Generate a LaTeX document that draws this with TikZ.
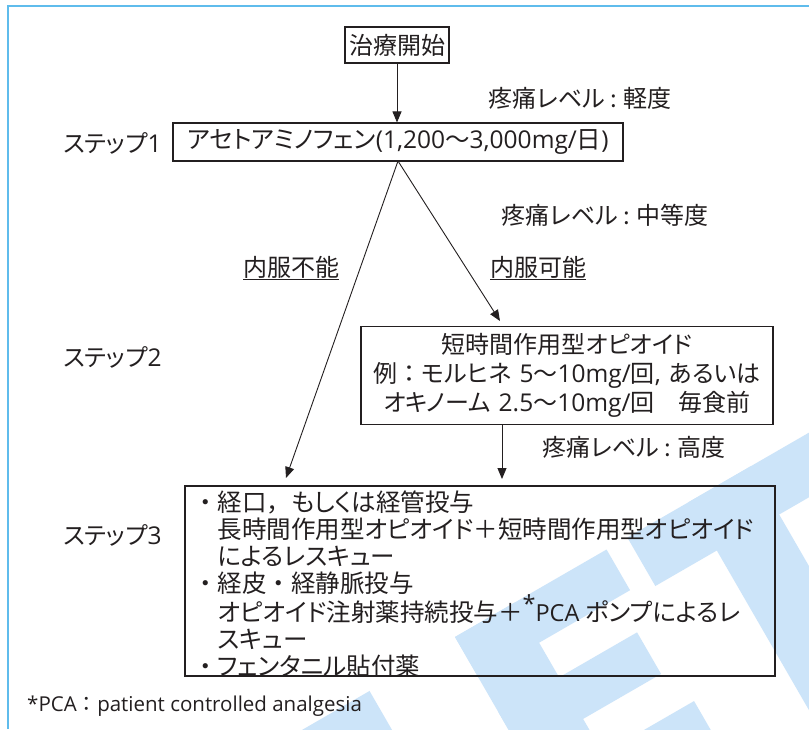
\documentclass[tikz,border=0pt]{standalone}
\usepackage{fontspec}
\setmainfont{Noto Sans CJK JP}[RawFeature={+palt}]
\newfontfamily\fw{Noto Sans CJK JP}
\newfontfamily\lat{Open Sans}
\newcommand{\lt}[1]{{\lat\fontsize{24.5}{\baselineskip}\selectfont #1}}
\newcommand{\lts}[1]{{\lat\fontsize{23.5}{\baselineskip}\selectfont #1}}
\newcommand{\fwc}[1]{{\fw #1}}
\usetikzlibrary{arrows.meta}
\definecolor{ink}{RGB}{35,31,32}
\definecolor{wm}{RGB}{204,228,249}
\definecolor{framec}{RGB}{95,188,236}
\tikzset{
  box/.style={draw=ink, line width=1.1pt},
  arr/.style={draw=ink, line width=0.9pt, -{Triangle[length=11pt,width=9pt]}},
  lbl/.style={inner sep=0pt, text=ink, font=\fontsize{24}{28}\selectfont},
  lblb/.style={text=ink, font=\fontsize{24}{29}\selectfont},
  lblc/.style={inner sep=0pt, text=ink, font=\fontsize{24.5}{26.8}\selectfont},
}
\begin{document}
\begin{tikzpicture}[x=1pt,y=-1pt]
\useasboundingbox (0,0) rectangle (809,729);
\fill[white] (0,0) rectangle (809,729);
% watermark
\begin{scope}[shift={(455,637)}, rotate=30]
  \fill[wm] (0,0) rectangle (70,400);
  \fill[wm] (0,0) rectangle (175,47);
  \fill[wm] (0,87) rectangle (160,135);
  \fill[wm] (0,175) rectangle (175,222);
  \fill[wm] (199,0) rectangle (413,56);
  \fill[wm] (270,0) rectangle (342,400);
  \fill[wm] (-101,4) rectangle (-320,300);
\end{scope}
% frame
\draw[framec, line width=1.6pt] (809,6) -- (8,6) -- (8,729);
% nodes
\node[box, lbl, minimum width=104, minimum height=36] (start) at (397,45) {治療開始};
\node[lbl] (l1) at (580,98) {疼痛レベル\hspace{0.25em}:\hspace{0.25em}軽度};
\node[lbl, anchor=west] (st1) at (63,143) {ステップ\lt{1}};
\node[box, lbl, font=\fontsize{24.5}{28}\selectfont, minimum width=450, minimum height=38] (s1) at (398,142) {アセトアミノフェン\lt{(1,200}\fwc{〜}\lt{3,000mg/}日\lt{)}};
\node[lbl] (l2) at (605,215) {疼痛レベル\hspace{0.25em}:\hspace{0.25em}中等度};
\node[lbl] (no) at (291,268) {\underline{内服不能}};
\node[lbl] (yes) at (538,268) {\underline{内服可能}};
\node[lbl, anchor=west] (st2) at (63,357) {ステップ\lt{2}};
\node[box, lblb, inner xsep=6pt, inner ysep=0pt, text width=400, align=center, minimum height=98] (s2) at (567,375.5)
  {短時間作用型オピオイド\\例\fwc{：}モルヒネ \lt{5}\fwc{〜}\lt{10mg/}回\lt{, }あるいは\\オキノーム \lt{2.5}\fwc{〜}\lt{10mg/}回\fwc{　}毎食前};
\node[lbl] (l3) at (634,447) {疼痛レベル\hspace{0.25em}:\hspace{0.25em}高度};
\node[lbl, anchor=west] (st3) at (63,535) {ステップ\lt{3}};
\node[box, minimum width=590, minimum height=190] (s3) at (480,581) {};
\node[lblc, anchor=west, align=left] (s3t) at (193,584)
  {\fwc{・}経口\fwc{，}もしくは経管投与\\
   \fwc{　}長時間作用型オピオイド\fwc{＋}短時間作用型オピオイド\\
   \fwc{　}によるレスキュー\\
   \fwc{・}経皮\fwc{・}経静脈投与\\
   \fwc{　}オピオイド注射薬持続投与\fwc{＋}\raisebox{0.35em}{\lts{*}}\lts{PCA }ポンプによるレ\\
   \fwc{　}スキュー\\
   \fwc{・}フェンタニル貼付薬};
\node[inner sep=0pt, text=ink, anchor=west, font=\fontsize{20.5}{24}\selectfont\lat] (fn) at (27,706) {*PCA{\fw ：}patient controlled analgesia};
% connectors
\coordinate (split) at (398,161);
\coordinate (tipL) at (286,478);
\coordinate (tipR) at (500,321);
\coordinate (tipD) at (502,479);
\draw[arr] (start.south) -- (start.south |- s1.north);
\draw[arr] (split) -- (tipL);
\draw[arr] (split) -- (tipR);
\draw[arr] (tipD |- s2.south) -- (tipD);
\end{tikzpicture}
\end{document}
